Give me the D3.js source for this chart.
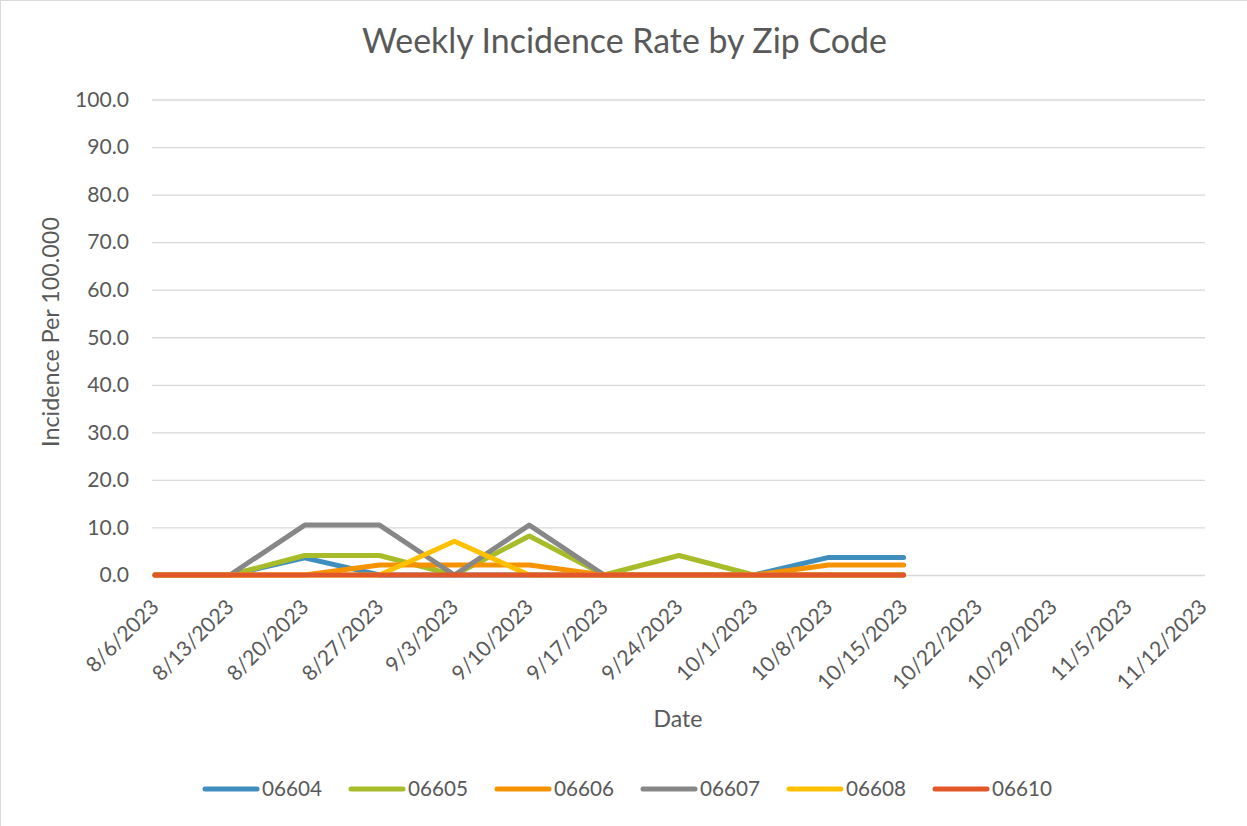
<!DOCTYPE html>
<html><head><meta charset="utf-8">
<script src="https://cdn.jsdelivr.net/npm/d3@7"></script>
<style>html,body{margin:0;padding:0;background:#fff;} svg{display:block;font-family:Lato,"Open Sans",sans-serif;}</style>
</head><body>
<svg id="chart" width="1247" height="826"></svg>
<script>
const dates = ["8/6/2023","8/13/2023","8/20/2023","8/27/2023","9/3/2023","9/10/2023","9/17/2023","9/24/2023","10/1/2023","10/8/2023","10/15/2023","10/22/2023","10/29/2023","11/5/2023","11/12/2023"];
const yTicks = [0,10,20,30,40,50,60,70,80,90,100];
const zip06604 = [0,0,3.6,0,0,0,0,0,0,3.7,3.7];
const zip06605 = [0,0,4.1,4.1,0,8.2,0,4.1,0,0,0];
const zip06606 = [0,0,0,2.1,2.1,2.1,0,0,0,2.1,2.1];
const zip06607 = [0,0,10.5,10.5,0,10.5,0,0,0,0,0];
const zip06608 = [0,0,0,0,7.1,0,0,0,0,0,0];
const zip06610 = [0,0,0,0,0,0,0,0,0,0,0];
const seriesNames = ["06604","06605","06606","06607","06608","06610"];
const seriesColors = ["#3f8ebd","#a8bc2a","#f59200","#878787","#ffc000","#e2572a"];
const seriesValues = [zip06604,zip06605,zip06606,zip06607,zip06608,zip06610];

const svg = d3.select("#chart");
const textColor = "#595959";

// border
svg.append("rect").attr("x",0.5).attr("y",0.5).attr("width",1247).attr("height",826)
  .attr("fill","#fff").attr("stroke","#d9d9d9");

function fit(sel, target){
  const n = sel.node();
  const fs = parseFloat(sel.attr("font-size"));
  const w = n.getComputedTextLength();
  if (w>0) sel.attr("font-size", fs*target/w);
  return sel;
}

const x = d3.scalePoint().domain(dates).range([155, 1203]);
const y = d3.scaleLinear().domain([0,100]).range([575, 99.5]);

// gridlines
const yAxis = d3.axisLeft(y).tickValues(yTicks).tickSize(-(1205-152)).tickPadding(23)
  .tickFormat(d3.format(".1f"));
const gy = svg.append("g").attr("transform","translate(152,0)").call(yAxis);
gy.select(".domain").remove();
gy.selectAll(".tick line").attr("stroke","#d9d9d9").attr("stroke-width",1.3);
gy.selectAll(".tick text").attr("fill",textColor).attr("font-size",20).attr("font-family","Lato");
fit(gy.select(".tick:last-of-type text"), 54);
const tickFs = gy.select(".tick:last-of-type text").attr("font-size");
gy.selectAll(".tick text").attr("font-size",tickFs);

// x labels
const xAxis = d3.axisBottom(x).tickSize(0).tickPadding(0);
const gx = svg.append("g").attr("transform","translate(0,0)").call(xAxis);
gx.select(".domain").remove();
gx.selectAll(".tick").attr("transform", d => `translate(${x(d)},603)`);
gx.selectAll(".tick text").attr("fill",textColor).attr("font-size",tickFs).attr("font-family","Lato")
  .attr("text-anchor","end").attr("dy","0.35em").attr("y",0).attr("x",0)
  .attr("transform","rotate(-45)");

// lines
const line = d3.line().x((d,i)=>x(dates[i])).y(d=>y(d));
seriesValues.forEach((vals,k)=>{
  svg.append("path").datum(vals).attr("d",line).attr("fill","none")
    .attr("stroke",seriesColors[k]).attr("stroke-width",5)
    .attr("stroke-linejoin","round").attr("stroke-linecap","round");
});

// title
const title = svg.append("text").attr("x",624.5).attr("y",53).attr("text-anchor","middle")
  .attr("fill",textColor).attr("font-size",30).text("Weekly Incidence Rate by Zip Code");
fit(title,525);

// axis titles
const xt = svg.append("text").attr("x",678).attr("y",727).attr("text-anchor","middle")
  .attr("fill",textColor).attr("font-size",22).text("Date");
fit(xt,49);
const yt = svg.append("text").attr("transform","translate(59,332) rotate(-90)").attr("text-anchor","middle")
  .attr("fill",textColor).attr("font-size",22).text("Incidence Per 100.000");
fit(yt,230);

// legend
const lg = svg.append("g");
seriesNames.forEach((name,i)=>{
  const x0 = 202 + i*146;
  lg.append("line").attr("x1",x0+3).attr("x2",x0+55).attr("y1",789).attr("y2",789)
    .attr("stroke",seriesColors[i]).attr("stroke-width",5).attr("stroke-linecap","round");
  const t = lg.append("text").attr("x",x0+60).attr("y",789).attr("dy","0.35em")
    .attr("fill",textColor).attr("font-size",20).text(name);
  fit(t,60);
});
</script>
</body></html>
